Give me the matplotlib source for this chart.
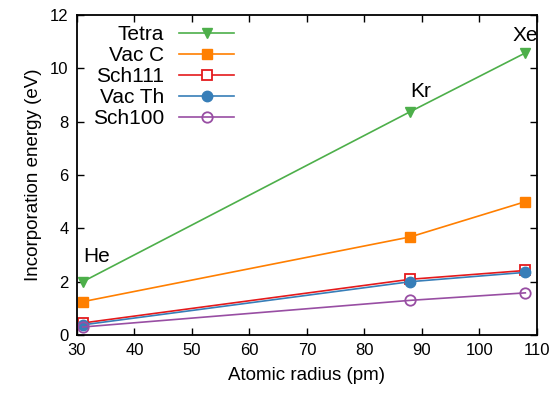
import matplotlib
matplotlib.use('Agg')
import matplotlib.pyplot as plt

plt.rcParams['font.family'] = ['Liberation Sans', 'DejaVu Sans']

radius = [31, 88, 108]
elements = ['He', 'Kr', 'Xe']
tetra = [2.0, 8.38, 10.58]
vac_c = [1.25, 3.68, 5.0]
sch111 = [0.45, 2.09, 2.42]
vac_th = [0.38, 2.0, 2.35]
sch100 = [0.3, 1.3, 1.58]

# where the element names sit
label_x = [31, 87.9, 105.8]
label_y = [2.74, 8.92, 11.02]

fig = plt.figure(figsize=(5.58, 3.93), dpi=100)
ax = fig.add_axes([0.138, 0.1476, 0.824, 0.814])

lw = 1.2
ms = 7.5
ax.plot(radius, tetra, color='#4daf4a', marker='v', ms=ms, lw=lw, label='Tetra')
ax.plot(radius, vac_c, color='#ff7f00', marker='s', ms=ms, lw=lw, label='Vac C')
ax.plot(radius, sch111, color='#e41a1c', marker='s', ms=ms, lw=lw, mfc='white', mew=1.3, label='Sch111')
ax.plot(radius, vac_th, color='#377eb8', marker='o', ms=ms, lw=lw, label='Vac Th')
ax.plot(radius, sch100, color='#984ea3', marker='o', ms=ms, lw=lw, mfc='none', mew=1.3, label='Sch100')

for name, x, y in zip(elements, label_x, label_y):
    ax.text(x, y, name, fontsize=15, clip_on=False)

ax.set_xlim(30, 110)
ax.set_ylim(0, 12)
ax.set_xticks(range(30, 111, 10))
ax.set_yticks(range(0, 13, 2))
ax.tick_params(direction='in', top=True, right=True, labelsize=12, length=5, width=1, pad=6)
for s in ax.spines.values():
    s.set_linewidth(1.3)

ax.set_xlabel('Atomic radius (pm)', fontsize=13.5, labelpad=6)
ax.set_ylabel('Incorporation energy (eV)', fontsize=13.5, labelpad=6)

ax.legend(loc='upper left', frameon=False, markerfirst=False, fontsize=15,
          handlelength=2.65, handletextpad=0.7, labelspacing=0.09,
          borderpad=0, borderaxespad=0, bbox_to_anchor=(0.035, 0.968))

fig.savefig('out.png', dpi=100)
